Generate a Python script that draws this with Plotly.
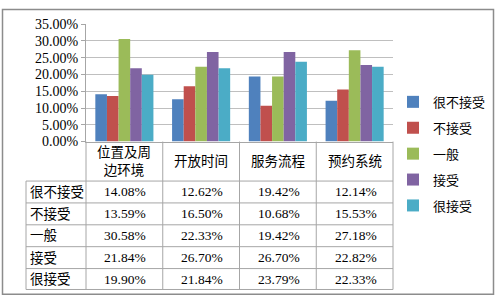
import plotly.graph_objects as go

categories = ["位置及周<br>边环境", "开放时间", "服务流程", "预约系统"]
series_names = ["很不接受", "不接受", "一般", "接受", "很接受"]
values = [
    [0.1408, 0.1262, 0.1942, 0.1214],
    [0.1359, 0.1650, 0.1068, 0.1553],
    [0.3058, 0.2233, 0.1942, 0.2718],
    [0.2184, 0.2670, 0.2670, 0.2282],
    [0.1990, 0.2184, 0.2379, 0.2233],
]
colors = ["#4F81BD", "#C0504D", "#9BBB59", "#8064A2", "#4BACC6"]

W, H = 496, 307
FONT = "Liberation Serif, 'Times New Roman', 'Noto Sans CJK SC', serif"
def px(x):
    return x / W
def py(y):
    return 1 - y / H

# layout geometry (pixels)
PL, PR, PT, PB = 86, 393, 18, 141.5
TL = 26
row_lines = [183, 206, 229, 252, 275, 297]
grid_col = "#bfbfbf"
tbl_col = "#a6a6a6"

fig = go.Figure()
for i, name in enumerate(series_names):
    fig.add_trace(go.Bar(
        x=categories, y=values[i], name=name,
        marker=dict(color=colors[i], line=dict(width=0)),
        legendgroup=name,
    ))

shapes = []
annotations = []
ncat = len(categories)
colw = (PR - PL) / ncat
# outer border
shapes.append(dict(type="rect", xref="paper", yref="paper",
                   x0=px(2.5), x1=px(493.5), y0=py(302), y1=py(2.5),
                   line=dict(color="#8c8c8c", width=1.5)))
# vertical table lines
for k in range(ncat + 1):
    x = PL + k * colw
    shapes.append(dict(type="line", xref="paper", yref="paper",
                       x0=px(x), x1=px(x), y0=py(PB), y1=py(row_lines[-1]),
                       line=dict(color=tbl_col, width=1)))
shapes.append(dict(type="line", xref="paper", yref="paper",
                   x0=px(TL), x1=px(TL), y0=py(row_lines[0]), y1=py(row_lines[-1]),
                   line=dict(color=tbl_col, width=1)))
for y in row_lines:
    shapes.append(dict(type="line", xref="paper", yref="paper",
                       x0=px(TL), x1=px(PR), y0=py(y), y1=py(y),
                       line=dict(color=tbl_col, width=1)))
# header labels
for k, c in enumerate(categories):
    annotations.append(dict(xref="paper", yref="paper", x=px(PL + (k + 0.5) * colw),
                            y=py((PB + row_lines[0]) / 2), text=c, showarrow=False,
                            xanchor="center", yanchor="middle",
                            font=dict(family=FONT, size=13.5, color="#000")))
# rows
for i, name in enumerate(series_names):
    yc = py((row_lines[i] + row_lines[i + 1]) / 2)
    annotations.append(dict(xref="paper", yref="paper", x=px(TL + 2), y=yc, text=name,
                            showarrow=False, xanchor="left", yanchor="middle",
                            font=dict(family=FONT, size=13.5, color="#000")))
    for k in range(ncat):
        annotations.append(dict(xref="paper", yref="paper", x=px(PL + (k + 0.5) * colw + 1),
                                y=yc, text=f"{values[i][k]*100:.2f}%",
                                showarrow=False, xanchor="center", yanchor="middle",
                                font=dict(family=FONT, size=13.5, color="#000")))

fig.update_layout(
    width=W, height=H,
    margin=dict(l=0, r=0, t=0, b=0),
    paper_bgcolor="white", plot_bgcolor="white",
    barmode="group", bargap=0.243, bargroupgap=0,
    showlegend=True,
    legend=dict(x=px(393), y=py(84), xanchor="left", yanchor="top",
                font=dict(family=FONT, size=13, color="#000"),
                tracegroupgap=6, itemwidth=30, bgcolor="rgba(0,0,0,0)"),
    xaxis=dict(domain=[px(PL), px(PR)], showticklabels=False, showline=True,
               linecolor=tbl_col, linewidth=1, ticks="", showgrid=False, fixedrange=True),
    yaxis=dict(domain=[py(PB), py(PT)], range=[0, 0.35], dtick=0.05, tickformat=".2%",
               showgrid=True, gridcolor=grid_col, gridwidth=1,
               showline=True, linecolor=tbl_col, linewidth=1,
               ticks="outside", ticklen=4, tickcolor=tbl_col,
               tickfont=dict(family=FONT, size=14, color="#000"), zeroline=False),
    shapes=shapes, annotations=annotations,
)
fig.write_html("out.html", config={"displayModeBar": False},
               post_script="document.body.style.margin='0';")
